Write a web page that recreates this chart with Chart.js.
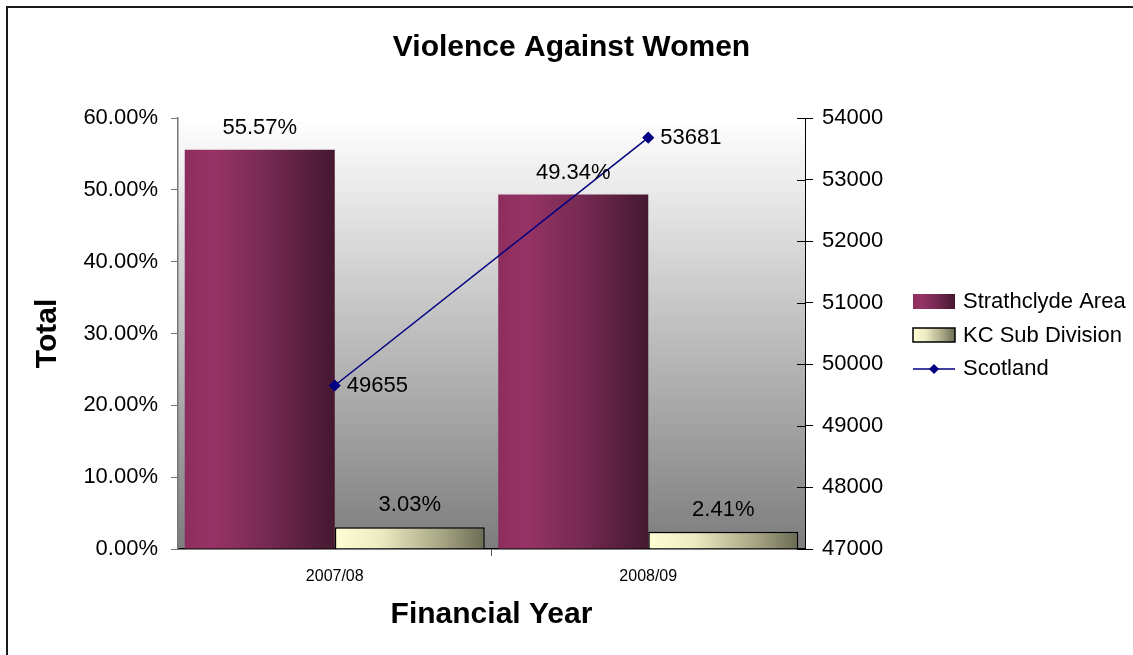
<!DOCTYPE html>
<html>
<head>
<meta charset="utf-8">
<script src="https://cdn.jsdelivr.net/npm/chart.js@4"></script>
<style>
    html, body { margin: 0; padding: 0; background: #fff; }
    #wrap { width: 1133px; height: 655px; position: relative; }
</style>
</head>
<body>
<div id="wrap"><canvas id="chartVaw"></canvas></div>
<script>
// data
var years = ['2007/08', '2008/09'];
var strathclyde = [55.57, 49.34];
var kcSubDivision = [3.03, 2.41];
var scotland = [49655, 53681];
var pctTicks = [0, 10, 20, 30, 40, 50, 60];
var countTicks = [47000, 48000, 49000, 50000, 51000, 52000, 53000, 54000];

var FONT = "'Liberation Sans', Arial, sans-serif";
var CAT_PCT = 0.957;
var plumStops = [[0, '#8c2e5d'], [0.18, '#973366'], [0.55, '#762a52'], [1, '#451830']];
var creamStops = [[0, '#fffdd2'], [0.3, '#ecebc2'], [0.7, '#a9a886'], [1, '#6b6b55']];

function makeGradient(ctx, x0, x1, stops) {
    var g = ctx.createLinearGradient(x0, 0, x1, 0);
    stops.forEach(function (s) { g.addColorStop(s[0], s[1]); });
    return g;
}

// horizontal gradient across each bar, bar extent taken from the x scale
function barFill(side, stops) {
    return function (c) {
        var chart = c.chart;
        var x = chart.scales.x;
        if (!chart.chartArea || !x || !x.width) return stops[1][1];
        var center = x.getPixelForValue(c.dataIndex);
        var half = x.width / years.length * CAT_PCT / 2;
        var x0 = side < 0 ? center - half : center;
        return makeGradient(chart.ctx, x0, x0 + half, stops);
    };
}

var decor = {
    id: 'decor',
    beforeDraw: function (chart) {
        var a = chart.chartArea, ctx = chart.ctx;
        var g = ctx.createLinearGradient(0, a.top, 0, a.bottom);
        g.addColorStop(0, '#ffffff');
        g.addColorStop(1, '#7d7d7d');
        ctx.save();
        ctx.fillStyle = g;
        ctx.fillRect(a.left, a.top, a.right - a.left, a.bottom - a.top);
        ctx.restore();
    },
    afterDatasetsDraw: function (chart) {
        var ctx = chart.ctx;
        ctx.save();
        ctx.font = '22px ' + FONT;
        ctx.fillStyle = '#000';
        ctx.textBaseline = 'middle';
        chart.data.datasets.forEach(function (ds, i) {
            var meta = chart.getDatasetMeta(i);
            meta.data.forEach(function (el, j) {
                var v = ds.data[j];
                if (ds.type === 'line') {
                    ctx.textAlign = 'left';
                    ctx.fillText(String(v), el.x + 12, el.y);
                } else {
                    ctx.textAlign = 'center';
                    ctx.fillText(v.toFixed(2) + '%', el.x, el.y - 22);
                }
            });
        });
        ctx.restore();
    },
    afterDraw: function (chart) {
        var ctx = chart.ctx, a = chart.chartArea;
        ctx.save();
        // inner half of the right axis tick marks
        var y1 = chart.scales.y1;
        ctx.strokeStyle = '#000';
        ctx.lineWidth = 1;
        y1.ticks.forEach(function (t) {
            var py = Math.round(y1.getPixelForValue(t.value)) + 0.5;
            ctx.beginPath();
            ctx.moveTo(a.right - 8, py);
            ctx.lineTo(a.right, py);
            ctx.stroke();
        });

        // legend
        var lx = 913, lw = 42;
        ctx.fillStyle = makeGradient(ctx, lx, lx + lw, plumStops);
        ctx.fillRect(lx, 294, lw, 15);
        ctx.fillStyle = makeGradient(ctx, lx, lx + lw, creamStops);
        ctx.fillRect(lx, 328, lw, 14);
        ctx.lineWidth = 1.5;
        ctx.strokeStyle = '#000';
        ctx.strokeRect(lx, 328, lw, 14);
        ctx.strokeStyle = '#000080';
        ctx.lineWidth = 1.5;
        ctx.beginPath();
        ctx.moveTo(lx, 369);
        ctx.lineTo(lx + lw, 369);
        ctx.stroke();
        ctx.fillStyle = '#000080';
        ctx.beginPath();
        ctx.moveTo(lx + 21, 364);
        ctx.lineTo(lx + 26, 369);
        ctx.lineTo(lx + 21, 374);
        ctx.lineTo(lx + 16, 369);
        ctx.closePath();
        ctx.fill();
        ctx.fillStyle = '#000';
        ctx.font = '22px ' + FONT;
        ctx.textAlign = 'left';
        ctx.textBaseline = 'middle';
        ctx.fillText('Strathclyde Area', 963, 302);
        ctx.fillText('KC Sub Division', 963, 336);
        ctx.fillText('Scotland', 963, 369);

        // outer frame
        ctx.strokeStyle = '#1a1a1a';
        ctx.lineWidth = 2;
        ctx.strokeRect(7, 7, 1140, 660);
        ctx.restore();
    }
};

Chart.defaults.font.family = FONT;
Chart.defaults.color = '#000';

new Chart(document.getElementById('chartVaw'), {
    type: 'bar',
    data: {
        labels: years,
        datasets: [{
            type: 'line',
            label: 'Scotland',
            data: scotland,
            yAxisID: 'y1',
            order: 0,
            borderColor: '#000080',
            backgroundColor: '#000080',
            borderWidth: 1.5,
            pointStyle: 'rectRot',
            pointRadius: 5,
            tension: 0
        }, {
            label: 'Strathclyde Area',
            data: strathclyde,
            yAxisID: 'y',
            order: 1,
            backgroundColor: barFill(-1, plumStops),
            borderWidth: 0
        }, {
            label: 'KC Sub Division',
            data: kcSubDivision,
            yAxisID: 'y',
            order: 1,
            backgroundColor: barFill(1, creamStops),
            borderColor: '#000',
            borderWidth: 1.5
        }]
    },
    options: {
        responsive: true,
        maintainAspectRatio: false,
        animation: false,
        categoryPercentage: CAT_PCT,
        barPercentage: 1,
        layout: { padding: { left: 10, right: 0, top: 0, bottom: 0 } },
        scales: {
            x: {
                afterFit: function (s) { s.height = 106; },
                grid: {
                    drawOnChartArea: false, tickLength: 7, offset: true,
                    // only the divider between the two years shows a tick
                    color: function (c) { return c.index === 1 ? '#555' : 'rgba(0,0,0,0)'; }
                },
                border: { color: '#000', width: 1.5 },
                ticks: { font: { size: 16 }, padding: 11 },
                title: {
                    display: true, text: 'Financial Year',
                    font: { size: 30, weight: 'bold' },
                    padding: { top: 0, bottom: 22 }
                }
            },
            y: {
                position: 'left',
                min: 0, max: 60,
                afterFit: function (s) { s.width = 168; },
                afterBuildTicks: function (s) { s.ticks = pctTicks.map(function (v) { return { value: v }; }); },
                grid: { drawOnChartArea: false, tickLength: 7, color: '#777' },
                border: { color: '#777', width: 1.5 },
                ticks: {
                    font: { size: 22 }, padding: 13,
                    callback: function (v) { return v.toFixed(2) + '%'; }
                },
                title: {
                    display: true, text: 'Total',
                    font: { size: 30, weight: 'bold' },
                    padding: { top: 20, bottom: 0 }
                }
            },
            y1: {
                position: 'right',
                min: 47000, max: 54000,
                afterFit: function (s) { s.width = 328; },
                afterBuildTicks: function (s) { s.ticks = countTicks.map(function (v) { return { value: v }; }); },
                grid: { drawOnChartArea: false, tickLength: 8, color: '#000' },
                border: { color: '#000', width: 1 },
                ticks: {
                    font: { size: 22 }, padding: 9,
                    callback: function (v) { return String(v); }
                }
            }
        },
        plugins: {
            legend: { display: false },
            tooltip: { enabled: false },
            title: {
                display: true,
                text: 'Violence Against Women',
                font: { size: 30, weight: 'bold' },
                color: '#000',
                padding: { top: 30, bottom: 52 }
            }
        }
    },
    plugins: [decor]
});
</script>
</body>
</html>
